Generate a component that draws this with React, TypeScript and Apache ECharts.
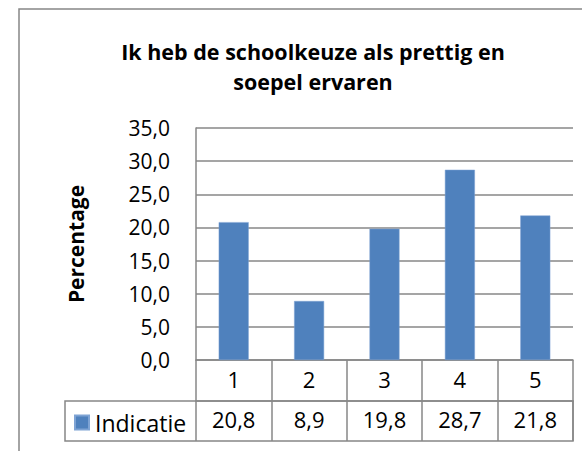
import React, { useEffect, useRef } from "react";
import * as echarts from "echarts";

const titleLines = ["Ik heb de schoolkeuze als prettig en", "soepel ervaren"];
const categories = ["1", "2", "3", "4", "5"];
const seriesName = "Indicatie";
const values = [20.8, 8.9, 19.8, 28.7, 21.8];
const yTicks = [0, 5, 10, 15, 20, 25, 30, 35];
const yAxisTitle = "Percentage";

const fmt = (v: number) => v.toFixed(1).replace(".", ",");
const FONT = "'Open Sans', sans-serif";
const GRAY = "#878787";

export default function App() {
  const ref = useRef<HTMLDivElement>(null);
  useEffect(() => {
    document.body.style.margin = "0";
    if (!ref.current) return;
    const chart = echarts.init(ref.current, undefined, { renderer: "svg" });
    const yMin = yTicks[0];
    const yMax = yTicks[yTicks.length - 1];
    const yStep = yTicks[1] - yTicks[0];
    chart.setOption({
      animation: false,
      backgroundColor: "#ffffff",
      textStyle: { fontFamily: FONT },
      title: {
        text: titleLines.join("\n"),
        left: 308,
        top: 31,
        textAlign: "center",
        textStyle: {
          fontFamily: FONT,
          fontSize: 21.5,
          fontWeight: "bold",
          color: "#000",
          lineHeight: 30,
        },
      },
      grid: { left: 196, right: 9, top: 128, bottom: 91, containLabel: false },
      legend: {
        data: [seriesName],
        left: 74,
        top: 411,
        icon: "rect",
        itemWidth: 14,
        itemHeight: 14,
        itemGap: 5,
        textStyle: { fontFamily: FONT, fontSize: 23, color: "#000", padding: [0, 0, 0, 1] },
        padding: 0,
      },
      xAxis: [
        {
          type: "category",
          data: categories,
          position: "bottom",
          boundaryGap: true,
          axisLine: { show: true, lineStyle: { color: GRAY, width: 1.5 } },
          axisTick: { show: true, length: 41, interval: 0, lineStyle: { color: GRAY, width: 1.5 } },
          axisLabel: { fontFamily: FONT, fontSize: 22, color: "#000", margin: 8, interval: 0 },
        },
        {
          type: "category",
          data: values.map(fmt),
          position: "bottom",
          offset: 41,
          boundaryGap: true,
          axisLine: { show: true, lineStyle: { color: GRAY, width: 1.5 } },
          axisTick: { show: true, length: 40, interval: 0, lineStyle: { color: GRAY, width: 1.5 } },
          axisLabel: { fontFamily: FONT, fontSize: 22, color: "#000", margin: 7, interval: 0 },
        },
      ],
      yAxis: {
        type: "value",
        min: yMin,
        max: yMax,
        interval: yStep,
        name: yAxisTitle,
        nameLocation: "middle",
        nameGap: 110,
        nameRotate: 90,
        nameTextStyle: { fontFamily: FONT, fontSize: 21, fontWeight: "bold", color: "#000" },
        axisLine: { show: true, lineStyle: { color: GRAY, width: 1.5 } },
        axisTick: { show: false },
        splitLine: { show: true, lineStyle: { color: GRAY, width: 1.5 } },
        axisLabel: {
          fontFamily: FONT,
          fontSize: 21,
          color: "#000",
          margin: 26,
          formatter: (v: number) => fmt(v),
        },
      },
      series: [
        {
          name: seriesName,
          type: "bar",
          xAxisIndex: 0,
          data: values,
          barWidth: 30,
          itemStyle: { color: "#4F81BD", borderColor: "#7ea3d4", borderWidth: 0.5 },
        },
      ],
      graphic: [
        {
          type: "rect",
          shape: { x: 19, y: 9, width: 800, height: 800 },
          style: { fill: "none", stroke: GRAY, lineWidth: 1.5 },
          silent: true,
        },
        {
          type: "rect",
          shape: { x: 65, y: 401, width: 508, height: 40 },
          style: { fill: "none", stroke: GRAY, lineWidth: 1.5 },
          silent: true,
        },
      ],
    });
    return () => chart.dispose();
  }, []);
  return <div ref={ref} style={{ width: 582, height: 451 }} />;
}
